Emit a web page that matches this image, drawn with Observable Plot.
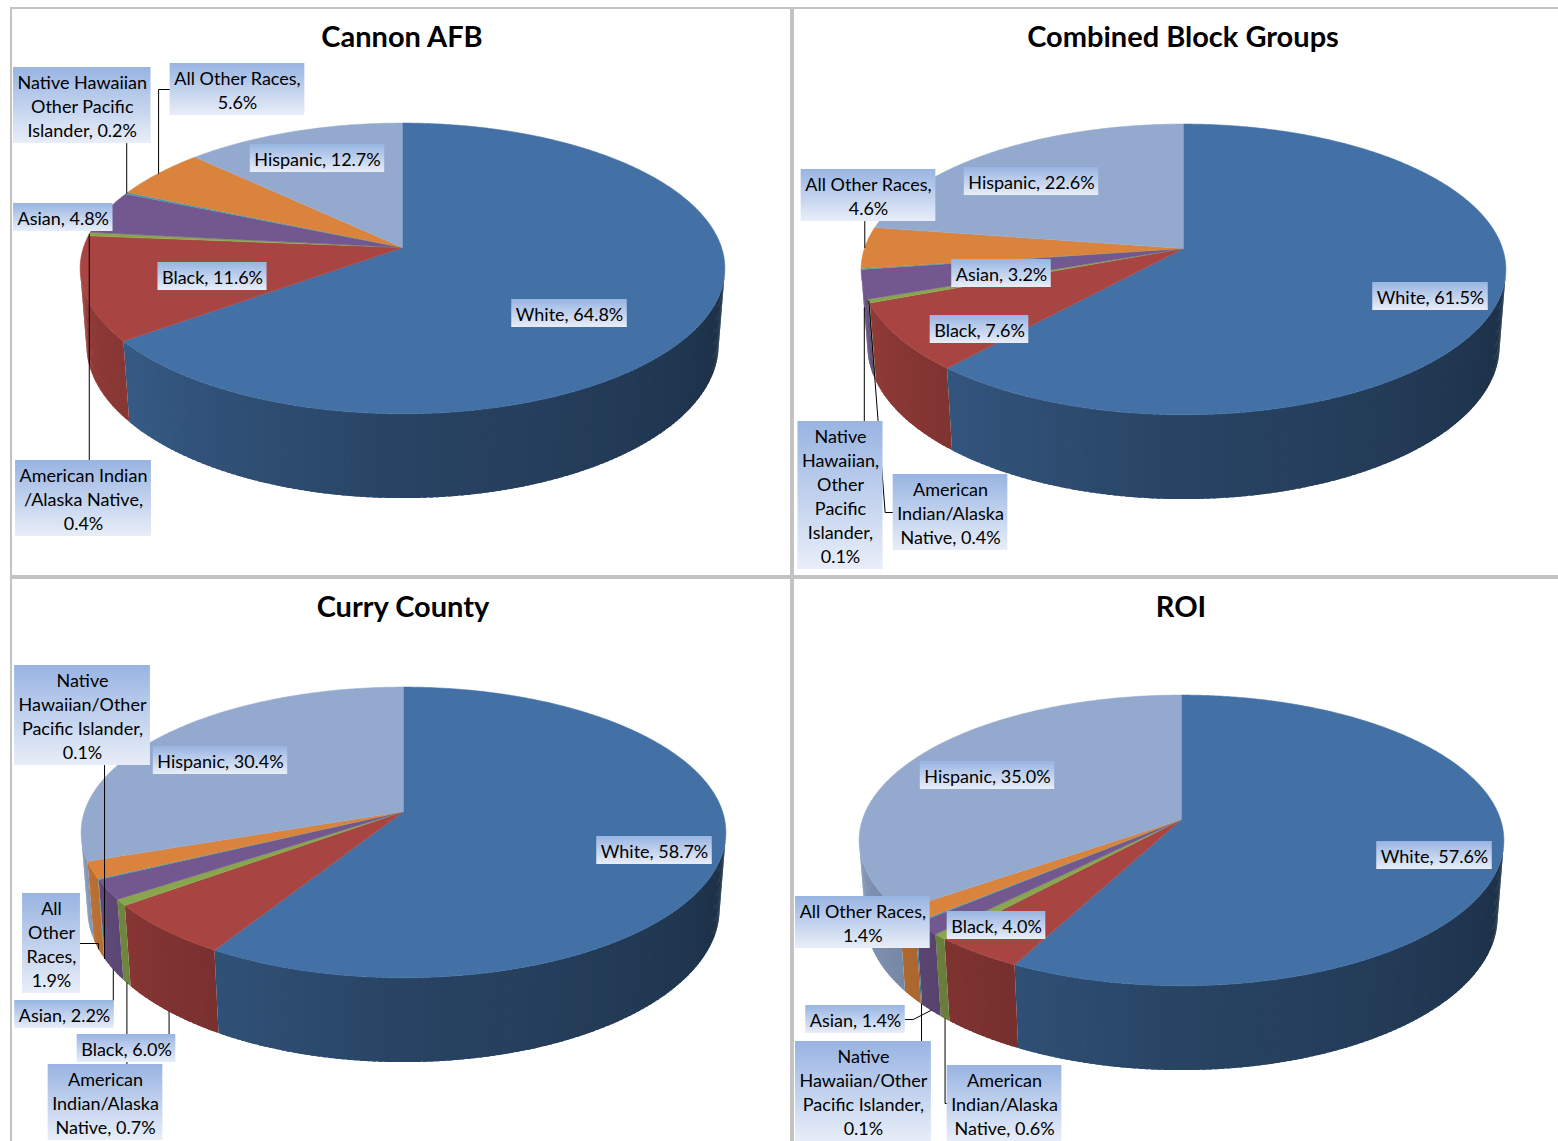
<!DOCTYPE html>
<html>
<head>
<meta charset="utf-8">
<script src="https://cdn.jsdelivr.net/npm/d3@7"></script>
<script src="https://cdn.jsdelivr.net/npm/@observablehq/plot@0.6"></script>
<style>
  html, body { margin: 0; padding: 0; background: #fff; width: 1558px; height: 1141px; overflow: hidden; }
  .panel { position: absolute; box-sizing: border-box; border: 2px solid #c3c3c3; background: #fff; overflow: hidden; }
  .title { position: relative; height: 50px; }
  .title span { position: absolute; top: 12px; transform: translateX(-50%); white-space: nowrap;
    font-family: Lato, "Open Sans", sans-serif; font-weight: 700; font-size: 29px; line-height: 1; color: #000; }
  .panel svg { display: block; }
</style>
</head>
<body>
<svg width="0" height="0" style="position:absolute">
  <defs>
    <linearGradient id="lblgrad" x1="0" y1="0" x2="0" y2="1">
      <stop offset="0%" stop-color="#98b4e2"/>
      <stop offset="100%" stop-color="#e8eef8"/>
    </linearGradient>
  </defs>
</svg>
<div id="root"></div>
<script>
// ---------------- data ----------------
const categories = ["White", "Black", "American Indian/Alaska Native", "Asian",
  "Native Hawaiian/Other Pacific Islander", "All Other Races", "Hispanic"];
const sliceColors = ["#4371a6", "#a84441", "#8aa64d", "#72588f", "#4198af", "#d9833c", "#94a9ce"];
const titles = ["Cannon AFB", "Combined Block Groups", "Curry County", "ROI"];

const cannonAFB           = [64.8, 11.6, 0.4, 4.8, 0.2, 5.6, 12.7];
const combinedBlockGroups = [61.5,  7.6, 0.4, 3.2, 0.1, 4.6, 22.6];
const curryCounty         = [58.7,  6.0, 0.7, 2.2, 0.1, 1.9, 30.4];
const roi                 = [57.6,  4.0, 0.6, 1.4, 0.1, 1.4, 35.0];

// label texts ({v} is replaced by the value)
const labelsCannon = ["White, {v}", "Black, {v}", "American Indian\n/Alaska Native,\n{v}", "Asian, {v}",
  "Native Hawaiian\nOther Pacific\nIslander, {v}", "All Other Races,\n{v}", "Hispanic, {v}"];
const labelsCombined = ["White, {v}", "Black, {v}", "American\nIndian/Alaska\nNative, {v}", "Asian, {v}",
  "Native\nHawaiian,\nOther\nPacific\nIslander,\n{v}", "All Other Races,\n{v}", "Hispanic, {v}"];
const labelsCurry = ["White, {v}", "Black, {v}", "American\nIndian/Alaska\nNative, {v}", "Asian, {v}",
  "Native\nHawaiian/Other\nPacific Islander,\n{v}", "All\nOther\nRaces,\n{v}", "Hispanic, {v}"];
const labelsROI = ["White, {v}", "Black, {v}", "American\nIndian/Alaska\nNative, {v}", "Asian, {v}",
  "Native\nHawaiian/Other\nPacific Islander,\n{v}", "All Other Races,\n{v}", "Hispanic, {v}"];

// ---------------- layout (label placement offsets from pie centre, px) ----------------
const panels = [
  { title: titles[0], values: cannonAFB, labels: labelsCannon,
    left: 10, top: 7, width: 782, height: 570, cx: 390, cy: 188,
    place: [[167, 66], [-190, 29], [-319, 251], [-342, -30], [-321, -142], [-165, -158], [-85, -89]],
    leader: [null, null, {h: 0}, null, {h: 0}, {h: 0}, null] },
  { title: titles[1], values: combinedBlockGroups, labels: labelsCombined,
    left: 792, top: 7, width: 780, height: 570, cx: 389, cy: 189,
    place: [[247, 48], [-204, 81], [-233, 264], [-182, 25], [-343, 247], [-315, -53], [-152, -67]],
    leader: [null, null, {h: 0, diag: true}, null, {h: 0.5}, {h: 0}, null] },
  { title: titles[2], values: curryCounty, labels: labelsCurry,
    left: 10, top: 577, width: 782, height: 580, cx: 391, cy: 182,
    place: [[251, 39], [-277, 237], [-298, 291], [-339, 203], [-321, -96], [-352, 132], [-183, -51]],
    leader: [null, {h: 1}, {h: 1}, {h: 1}, {h: 1}, {h: 1}, null] },
  { title: titles[3], values: roi, labels: labelsROI,
    left: 792, top: 577, width: 780, height: 580, cx: 387, cy: 190,
    place: [[253, 36], [-185, 106], [-177, 284], [-326, 200], [-319, 272], [-320, 103], [-194, -44]],
    leader: [null, null, {h: 1}, {h: 1, diag: true}, {h: 1}, null, null] }
];

// ---------------- 3D projection ----------------
const ELEV = 26.5 * Math.PI / 180, SE = Math.sin(ELEV), CE = Math.cos(ELEV);
const DIST = 6.22, RADIUS = 319, DEPTH = 0.27;
const WALL_MIN = Math.acos(-1 / (DIST * CE)), WALL_MAX = 2 * Math.PI - WALL_MIN;
const OVERLAP = 0.6 * Math.PI / 180;

function project(theta, r, h) {
  const u = r * Math.sin(theta), v = r * Math.cos(theta), z = -h * DEPTH;
  const ys = v * SE + z * CE, d = DIST + v * CE - z * SE;
  return [u * DIST / d * RADIUS, ys * DIST / d * RADIUS];
}
function shade(color, theta) {
  const deg = theta * 180 / Math.PI;
  const f = deg < 180 ? 0.42 + 0.18 * (deg - 100) / 80 : 0.60 + 0.30 * (deg - 180) / 80;
  const c = d3.rgb(color);
  return d3.rgb(c.r * f, c.g * f, c.b * f).formatHex();
}

const FONT = "Lato, 'Open Sans', sans-serif";
const FS = 18, LH = 24;
const ctx = document.createElement("canvas").getContext("2d");
ctx.font = `${FS}px ${FONT}`;

const root = document.getElementById("root");

panels.forEach((p, pi) => {
  const div = document.createElement("div");
  div.className = "panel";
  Object.assign(div.style, {left: p.left + "px", top: p.top + "px", width: p.width + "px", height: p.height + "px"});
  const t = document.createElement("div");
  t.className = "title";
  const span = document.createElement("span");
  span.textContent = p.title;
  span.style.left = p.cx + "px";
  t.appendChild(span);
  div.appendChild(t);

  const W = p.width - 4, Hs = p.height - 4 - 50;
  const total = d3.sum(p.values);
  let acc = 0;
  const slices = p.values.map((v, i) => {
    const a0 = acc / total * 2 * Math.PI; acc += v;
    const a1 = acc / total * 2 * Math.PI;
    return {i, a0, a1, color: sliceColors[i]};
  });

  // top faces
  const tops = [];
  slices.forEach(s => {
    const n = Math.max(2, Math.ceil((s.a1 - s.a0) / (Math.PI / 360)));
    tops.push({id: s.i, x: 0, y: 0, color: s.color});
    for (let k = 0; k <= n; k++) {
      const [x, y] = project(s.a0 + (s.a1 - s.a0) * k / n, 1, 0);
      tops.push({id: s.i, x, y, color: s.color});
    }
  });

  // visible outer walls (small overlapping strips, shaded by angle)
  const walls = [];
  slices.forEach(s => {
    const lo = Math.max(s.a0, WALL_MIN), hi = Math.min(s.a1, WALL_MAX);
    if (hi <= lo) return;
    const n = Math.max(1, Math.ceil((hi - lo) / (Math.PI / 180)));
    for (let k = 0; k < n; k++) {
      const t0 = lo + (hi - lo) * k / n;
      const t1 = Math.min(hi, lo + (hi - lo) * (k + 1) / n + OVERLAP);
      const col = shade(s.color, (t0 + t1) / 2);
      const id = s.i + "-" + k;
      const pts = [];
      const m = 4;
      for (let j = 0; j <= m; j++) pts.push([t0 + (t1 - t0) * j / m, 0]);
      for (let j = m; j >= 0; j--) pts.push([t0 + (t1 - t0) * j / m, 1]);
      pts.forEach(([th, h]) => {
        const [x, y] = project(th, 1, h);
        walls.push({id, x, y, color: col});
      });
    }
  });

  // labels
  const labels = slices.map((s, i) => {
    const text = p.labels[i].replace("{v}", p.values[i].toFixed(1) + "%");
    const lines = text.split("\n");
    const w = d3.max(lines, l => ctx.measureText(l).width) + 8;
    const h = lines.length * LH + 4;
    let [dx, dy] = p.place[i];
    if (dx - w / 2 < -p.cx + 1) dx = -p.cx + 1 + w / 2;
    return {text, x: dx, y: -dy, x1: dx - w / 2, x2: dx + w / 2, y1: -dy - h / 2, y2: -dy + h / 2};
  });

  // leader lines
  const leaders = [];
  p.leader.forEach((L, i) => {
    if (!L) return;
    const s = slices[i], b = labels[i];
    const [ax, ay] = project((s.a0 + s.a1) / 2, 1, L.h);
    let pts;
    if (ax >= b.x1 && ax <= b.x2) {
      pts = [[ax, ay], [ax, ay > b.y2 ? b.y2 : b.y1]];
    } else {
      const left = ax < b.x1, edge = left ? b.x1 : b.x2, sgn = left ? -1 : 1;
      pts = L.diag ? [[ax, ay], [edge + sgn * 8, b.y], [edge, b.y]]
                   : [[ax, ay], [ax, b.y], [edge, b.y]];
    }
    pts.forEach(([x, y]) => leaders.push({id: i, x, y}));
  });

  const svg = Plot.plot({
    width: W, height: Hs, margin: 0,
    x: {domain: [-p.cx, W - p.cx], axis: null},
    y: {domain: [-(Hs - p.cy), p.cy], axis: null},
    color: {type: "identity"},
    style: {background: "transparent", overflow: "visible"},
    marks: [
      Plot.line(walls, {x: "x", y: "y", z: "id", fill: "color", stroke: "none"}),
      Plot.line(tops, {x: "x", y: "y", z: "id", fill: "color", stroke: "color", strokeWidth: 0.6, strokeLinejoin: "round"}),
      Plot.line(leaders, {x: "x", y: "y", z: "id", stroke: "#000", strokeWidth: 1}),
      Plot.rect(labels, {x1: "x1", x2: "x2", y1: "y1", y2: "y2", fill: "url(#lblgrad)"}),
      Plot.text(labels, {x: "x", y: "y", text: "text", fontSize: FS, lineHeight: LH / FS, fontFamily: FONT, fill: "#000"})
    ]
  });
  div.appendChild(svg);
  root.appendChild(div);
});
</script>
</body>
</html>
